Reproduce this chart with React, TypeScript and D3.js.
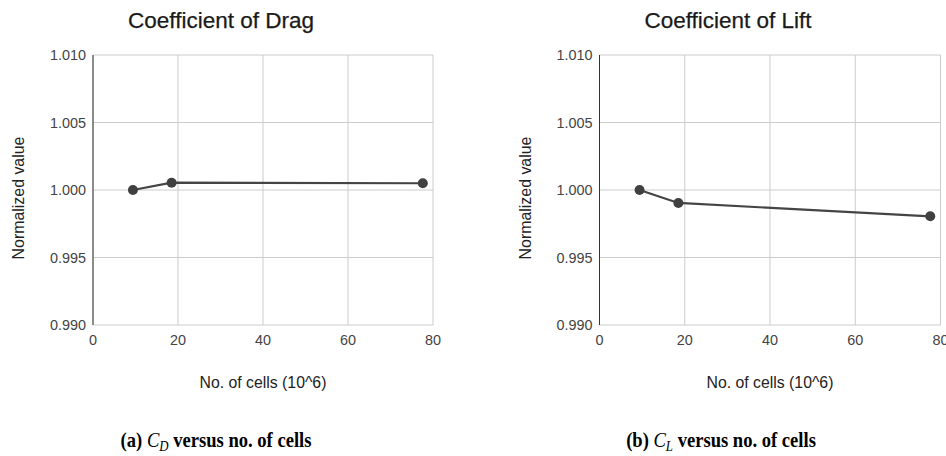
import React from "react";
import * as d3 from "d3";

// Mesh sizes in millions of cells and normalised coefficients
const cells = [9.4, 18.5, 77.6];
const dragValues = [1.0, 1.00054, 1.0005];
const liftValues = [1.0, 0.99904, 0.99805];
const xTicks = [0, 20, 40, 60, 80];
const yTicks = [0.99, 0.995, 1.0, 1.005, 1.01];

const W = 946;
const H = 456;
const TOP = 55;
const BOTTOM = 325;

type PanelProps = {
  title: string;
  values: number[];
  left: number;
  right: number;
  titleX: number;
  yLabelX: number;
};

function Panel({ title, values, left, right, titleX, yLabelX }: PanelProps) {
  const x = d3.scaleLinear().domain([0, 80]).range([left, right]);
  const y = d3.scaleLinear().domain([0.99, 1.01]).range([BOTTOM, TOP]);
  const pts = cells.map((c, i) => [c, values[i]] as [number, number]);
  const line = d3
    .line<[number, number]>()
    .x((d) => x(d[0]))
    .y((d) => y(d[1]));
  const font = "'Liberation Sans', Arial, sans-serif";
  return (
    <g>
      <text
        x={titleX}
        y={28}
        textAnchor="middle"
        fontFamily={font}
        fontSize={22.5}
        fill="#1a1a1a"
        stroke="#1a1a1a"
        strokeWidth={0.25}
      >
        {title}
      </text>
      {xTicks.map((t) => (
        <line key={"gx" + t} x1={x(t)} x2={x(t)} y1={TOP} y2={BOTTOM} stroke="#cccccc" strokeWidth={1} />
      ))}
      {yTicks.map((t) => (
        <line key={"gy" + t} x1={left} x2={right} y1={y(t)} y2={y(t)} stroke="#cccccc" strokeWidth={1} />
      ))}
      <line x1={left} x2={left} y1={TOP} y2={BOTTOM} stroke="#333" strokeWidth={1} />
      {yTicks.map((t) => (
        <text
          key={"ty" + t}
          x={left - 7}
          y={y(t)}
          dy="0.35em"
          textAnchor="end"
          fontFamily={font}
          fontSize={14.4}
          fill="#444"
        >
          {d3.format(".3f")(t)}
        </text>
      ))}
      {xTicks.map((t) => (
        <text
          key={"tx" + t}
          x={x(t)}
          y={345}
          textAnchor="middle"
          fontFamily={font}
          fontSize={14.4}
          fill="#444"
        >
          {t}
        </text>
      ))}
      <text
        transform={`translate(${yLabelX},198) rotate(-90)`}
        dy="0.35em"
        textAnchor="middle"
        fontFamily={font}
        fontSize={15.9}
        fill="#222"
      >
        Normalized value
      </text>
      <text
        x={(left + right) / 2}
        y={388}
        textAnchor="middle"
        fontFamily={font}
        fontSize={15.8}
        fill="#222"
      >
        No. of cells (10^6)
      </text>
      <path d={line(pts) ?? ""} fill="none" stroke="#444" strokeWidth={2.2} />
      {pts.map((p, i) => (
        <circle key={i} cx={x(p[0])} cy={y(p[1])} r={5} fill="#404040" />
      ))}
    </g>
  );
}

function Caption({ x, tag, sub }: { x: number; tag: string; sub: string }) {
  return (
    <g transform={`translate(${x},447) scale(0.885,1)`}>
      <text
        x={0}
        y={0}
        textAnchor="middle"
        fontFamily="'Liberation Serif', 'Times New Roman', serif"
        fontSize={21}
        fill="#000"
      >
        <tspan fontWeight="bold">{`(${tag}) `}</tspan>
        <tspan fontStyle="italic">C</tspan>
        <tspan fontStyle="italic" fontSize={14.5} dy={3.5}>
          {sub}
        </tspan>
        <tspan fontWeight="bold" dy={-3.5}>
          {" versus no. of cells"}
        </tspan>
      </text>
    </g>
  );
}

export default function App() {
  return (
    <svg
      width={W}
      height={H}
      style={{ position: "absolute", left: 0, top: 0, background: "#fff" }}
    >
      <rect width={W} height={H} fill="#fff" />
      <Panel title="Coefficient of Drag" values={dragValues} left={93} right={433} titleX={221} yLabelX={18} />
      <Panel title="Coefficient of Lift" values={liftValues} left={599.5} right={940.5} titleX={728} yLabelX={525} />
      <Caption x={216} tag="a" sub="D" />
      <Caption x={721} tag="b" sub="L" />
    </svg>
  );
}
